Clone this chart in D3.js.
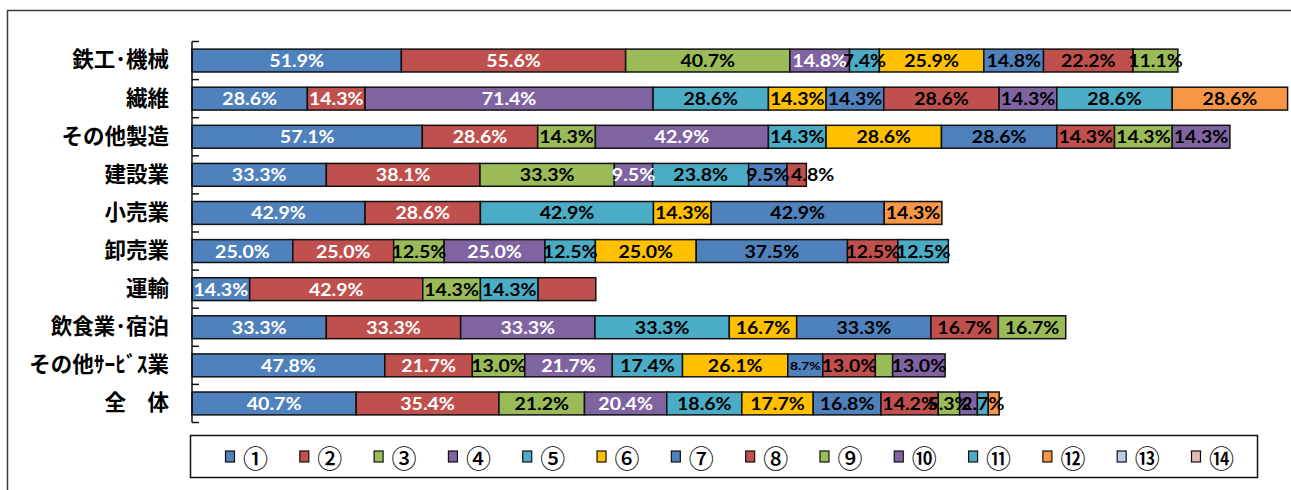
<!DOCTYPE html>
<html>
<head>
<meta charset="utf-8">
<script src="https://cdn.jsdelivr.net/npm/d3@7/dist/d3.min.js"></script>
<style>
  html, body { margin: 0; padding: 0; background: #fff; }
  svg { display: block; }
</style>
</head>
<body>
<svg id="chart" width="1291" height="490"></svg>
<script>
// Industry categories, top to bottom
const categories = ["鉄工･機械", "繊維", "その他製造", "建設業", "小売業", "卸売業", "運輸", "飲食業･宿泊", "その他ｻｰﾋﾞｽ業", "全　体"];

// Answer options ①–⑭
const seriesNames = ["①", "②", "③", "④", "⑤", "⑥", "⑦", "⑧", "⑨", "⑩", "⑪", "⑫", "⑬", "⑭"];

// Share (%) choosing each option, one entry per category (null = no answer)
const s01 = [51.9, 28.6, 57.1, 33.3, 42.9, 25.0, 14.3, 33.3, 47.8, 40.7];
const s02 = [55.6, 14.3, 28.6, 38.1, 28.6, 25.0, 42.9, 33.3, 21.7, 35.4];
const s03 = [40.7, null, 14.3, 33.3, null, 12.5, 14.3, null, 13.0, 21.2];
const s04 = [14.8, 71.4, 42.9, 9.5, null, 25.0, null, 33.3, 21.7, 20.4];
const s05 = [7.4, 28.6, 14.3, 23.8, 42.9, 12.5, 14.3, 33.3, 17.4, 18.6];
const s06 = [25.9, 14.3, 28.6, null, 14.3, 25.0, null, 16.7, 26.1, 17.7];
const s07 = [14.8, 14.3, 28.6, 9.5, 42.9, 37.5, null, 33.3, 8.7, 16.8];
const s08 = [22.2, 28.6, 14.3, 4.8, null, 12.5, 14.3, 16.7, 13.0, 14.2];
const s09 = [11.1, null, 14.3, null, null, null, null, 16.7, 4.3, 5.3];
const s10 = [null, 14.3, 14.3, null, null, null, null, null, 13.0, 4.4];
const s11 = [null, 28.6, null, null, null, 12.5, null, null, null, 2.7];
const s12 = [null, 28.6, null, null, 14.3, null, null, null, null, 2.7];
const s13 = [null, null, null, null, null, null, null, null, null, null];
const s14 = [null, null, null, null, null, null, null, null, null, null];
const seriesValues = [s01, s02, s03, s04, s05, s06, s07, s08, s09, s10, s11, s12, s13, s14];

// Segments whose value label is not shown: [category, series index]
const unlabeled = [["運輸", 7], ["その他ｻｰﾋﾞｽ業", 8], ["全　体", 9], ["全　体", 11]];
// Segments with a reduced-size value label
const smallLabels = [["その他ｻｰﾋﾞｽ業", 6]];
// Labels set from the segment's left edge instead of its centre
const leftLabels = [["建設業", 7]];

const colors = ["#4F81BD", "#C0504D", "#9BBB59", "#8064A2", "#4BACC6", "#FFC000", "#4F81BD",
                "#C0504D", "#9BBB59", "#8064A2", "#4BACC6", "#F79646", "#B9CDE5", "#E6B9B8"];
const whiteText = new Set([0, 1, 3]);

const svg = d3.select("#chart");

// Chart frame
svg.append("rect")
  .attr("x", 7.5).attr("y", 10.5)
  .attr("width", 1400).attr("height", 600)
  .attr("fill", "#fff").attr("stroke", "#3a3a3a").attr("stroke-width", 1.5);

const x = d3.scaleLinear().domain([0, 272]).range([192, 1289.2]);
const y = d3.scaleBand().domain(categories).range([41.5, 422.5])
  .paddingInner(0.4).paddingOuter(0.2);

// Build stacked segments
const segments = [];
categories.forEach((cat, ci) => {
  let acc = 0;
  seriesValues.forEach((vals, si) => {
    const v = vals[ci];
    if (v == null) return;
    segments.push({cat, si, v, x0: acc, x1: acc + v});
    acc += v;
  });
});

const isIn = (list, d) => list.some(([c, s]) => c === d.cat && s === d.si);

svg.append("g").selectAll("rect")
  .data(segments)
  .join("rect")
  .attr("x", d => x(d.x0))
  .attr("y", d => y(d.cat))
  .attr("width", d => x(d.x1) - x(d.x0))
  .attr("height", y.bandwidth())
  .attr("fill", d => colors[d.si])
  .attr("stroke", "#111")
  .attr("stroke-width", 1.5);

// Value labels
svg.append("g").selectAll("text")
  .data(segments.filter(d => !isIn(unlabeled, d)))
  .join("text")
  .attr("transform", d => {
    const left = isIn(leftLabels, d);
    const tx = left ? x(d.x0) + 4 : (x(d.x0) + x(d.x1)) / 2;
    return `translate(${tx},${y(d.cat) + y.bandwidth() / 2}) scale(1.15,1)`;
  })
  .attr("text-anchor", d => isIn(leftLabels, d) ? "start" : "middle")
  .attr("dominant-baseline", "central")
  .attr("font-family", "Lato, 'Open Sans', sans-serif")
  .attr("font-weight", 700)
  .attr("font-size", d => isIn(smallLabels, d) ? 12 : 17)
  .attr("fill", d => whiteText.has(d.si) ? "#fff" : "#000")
  .text(d => d.v.toFixed(1) + "%");

// Category axis
const axis = d3.axisLeft(y).tickSize(0).tickPadding(23);
const ag = svg.append("g").attr("transform", "translate(192,0)").call(axis);
ag.select(".domain").remove();
ag.selectAll("text")
  .attr("font-family", "'Noto Sans CJK JP', sans-serif")
  .attr("font-weight", 700)
  .attr("font-size", 21.5)
  .attr("fill", "#000");

const bounds = [y.range()[0]].concat(categories.map(c => y(c) - y.step() * y.paddingInner() / 2).slice(1), [y.range()[1]]);
svg.append("line").attr("x1", 192).attr("x2", 192)
  .attr("y1", y.range()[0]).attr("y2", y.range()[1])
  .attr("stroke", "#111").attr("stroke-width", 1.5);
svg.append("g").selectAll("line").data(bounds).join("line")
  .attr("x1", 192).attr("x2", 199)
  .attr("y1", d => d).attr("y2", d => d)
  .attr("stroke", "#111").attr("stroke-width", 1.5);

// Legend
svg.append("rect")
  .attr("x", 190.5).attr("y", 435.5).attr("width", 1067).attr("height", 42)
  .attr("fill", "#fff").attr("stroke", "#111").attr("stroke-width", 1.5);

const lx = d3.scalePoint().domain(seriesNames).range([245.5, 1211.5]);
const lg = svg.append("g").selectAll("g").data(seriesNames).join("g")
  .attr("transform", d => `translate(${lx(d)},456)`);
lg.append("rect")
  .attr("x", -20).attr("y", -5).attr("width", 9).attr("height", 11)
  .attr("fill", (d, i) => colors[i]).attr("stroke", "#111").attr("stroke-width", 1.2);
lg.append("text")
  .attr("transform", "translate(10,1)")
  .attr("text-anchor", "middle")
  .attr("dominant-baseline", "central")
  .attr("font-family", "'Noto Sans CJK JP', sans-serif")
  .attr("font-weight", 500)
  .attr("font-size", 25)
  .attr("fill", "#000")
  .text(d => d);
</script>
</body>
</html>
